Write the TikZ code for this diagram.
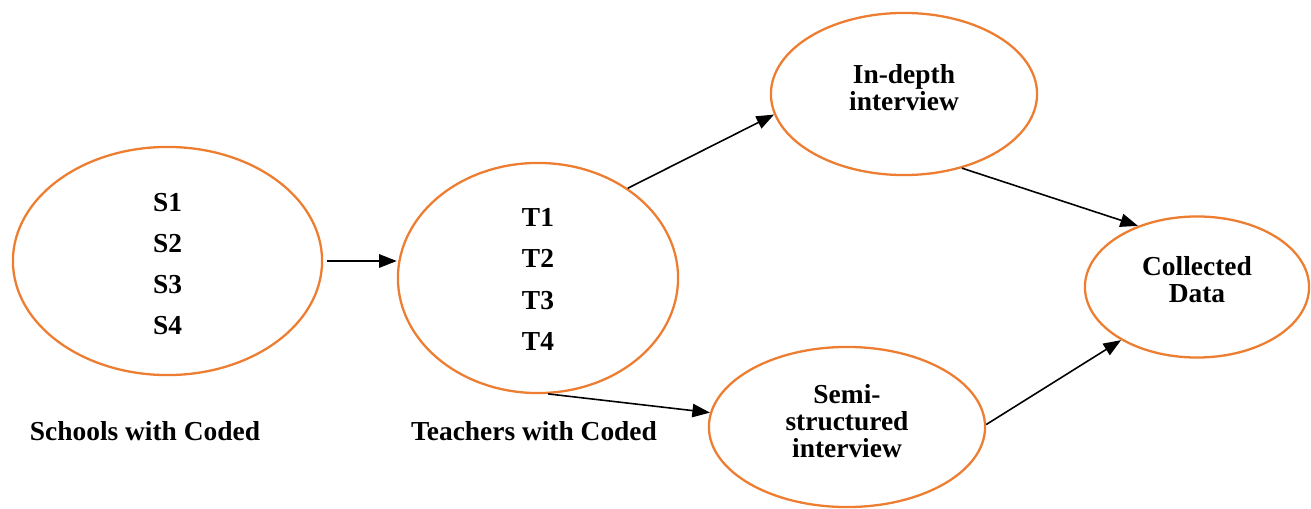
\documentclass[tikz,border=0pt]{standalone}
\usepackage{fontspec}
\setmainfont{Liberation Serif}
\usetikzlibrary{shapes.geometric,arrows.meta}
\definecolor{orng}{HTML}{ED7D31}
\begin{document}
\begin{tikzpicture}[x=0.01cm,y=-0.01cm,
  oval/.style={ellipse,draw=orng,line width=0.65pt,inner sep=0pt},
  txt/.style={font=\bfseries\fontsize{7.8}{7.7}\selectfont,align=center,inner sep=0pt},
  listtxt/.style={font=\bfseries\fontsize{7.8}{11.7}\selectfont,align=center,inner sep=0pt},
  arr/.style={-{Triangle[length=5pt,width=3.8pt]},line width=0.45pt}]
\useasboundingbox (0,0) rectangle (1311,509);

\node[oval,minimum width=3.09cm,minimum height=2.28cm,
  label={[listtxt,yshift=-0.03cm]center:S1\\S2\\S3\\S4}] (s) at (167.5,261) {};
\node[oval,minimum width=2.80cm,minimum height=2.30cm,
  label={[listtxt,yshift=-0.015cm]center:T1\\T2\\T3\\T4}] (t) at (538,278) {};
\node[oval,minimum width=2.66cm,minimum height=1.62cm,
  label={[txt,yshift=0.065cm]center:In-depth\\interview}] (in) at (904,94) {};
\node[oval,minimum width=2.76cm,minimum height=1.60cm,
  label={[txt,yshift=0.06cm]center:Semi-\\structured\\interview}] (semi) at (847,427) {};
\node[oval,minimum width=2.24cm,minimum height=1.41cm,
  label={[txt,yshift=0.07cm]center:Collected\\Data}] (c) at (1197,287) {};

\node[txt] (slab) at (145,431) {Schools with Coded};
\node[txt] (tlab) at (534,431) {Teachers with Coded};

\draw[arr,shorten <=1pt] (s.east) -- (s.east -| t.west);
\draw[arr] (t.45) -- (in.189);
\draw[arr] (in.308) -- (c.134);
\draw[arr] (t.275) -- (semi.174);
\draw[arr] (semi.1) -- (c.215);
\end{tikzpicture}
\end{document}
